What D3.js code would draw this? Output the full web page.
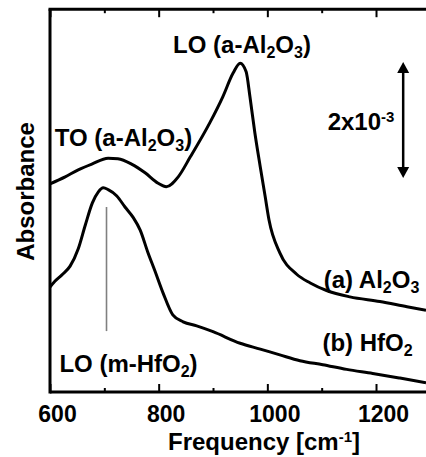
<!DOCTYPE html>
<html>
<head>
<meta charset="utf-8">
<script src="https://cdn.jsdelivr.net/npm/d3@7"></script>
<style>
  html, body { margin: 0; padding: 0; background: #fff; }
  svg { display: block; }
  text { font-family: "Liberation Sans", Arial, Helvetica, sans-serif; font-weight: bold; fill: #000; }
</style>
</head>
<body>
<svg id="chart" width="426" height="457"></svg>
<script>
// ---- data (absorbance in units of 1e-3, offset stacked as in figure) ----
const freqA = [600, 628, 652, 677, 707, 725, 750, 775, 799, 814, 836, 858, 894, 918, 937, 950, 961, 968, 977, 987, 996, 1003, 1023, 1054, 1079, 1109, 1152, 1207, 1257, 1292];
const absA  = [3.59, 3.71, 3.83, 3.93, 4.03, 4.02, 3.93, 3.78, 3.60, 3.54, 3.71, 4.05, 4.64, 5.09, 5.50, 5.67, 5.52, 5.09, 4.47, 3.88, 3.37, 2.97, 2.40, 2.03, 1.88, 1.75, 1.64, 1.56, 1.47, 1.41];

const freqB = [600, 609, 622, 637, 652, 665, 678, 689, 698, 707, 723, 738, 753, 766, 780, 793, 808, 826, 845, 870, 900, 950, 987, 1023, 1060, 1102, 1146, 1194, 1244, 1292];
const absB  = [1.81, 1.91, 2.02, 2.17, 2.47, 2.88, 3.26, 3.45, 3.52, 3.49, 3.38, 3.19, 3.01, 2.79, 2.41, 2.09, 1.71, 1.33, 1.21, 1.14, 1.04, 0.84, 0.74, 0.64, 0.54, 0.47, 0.39, 0.32, 0.24, 0.16];

const majorTicks = [600, 800, 1000, 1200];
const minorTicks = [700, 900, 1100];
const xDomain = [600, 1292];
const yDomain = [0, 6.6];

// LO (m-HfO2) marker and scale bar (data coordinates)
const markerFreq = 704;
const markerRange = [1.05, 3.19];
const scaleBarFreq = 1250;
const scaleBarRange = [3.69, 5.69];

// ---- drawing ----
const svg = d3.select("#chart");
const L = 50, R = 426, T = 9.2, B = 392;
const x = d3.scaleLinear().domain(xDomain).range([L, R]);
const y = d3.scaleLinear().domain(yDomain).range([B, T]);

const line = d3.line().x(d => x(d[0])).y(d => y(d[1])).curve(d3.curveMonotoneX);

// curves
svg.append("path").datum(d3.zip(freqA, absA))
  .attr("d", line).attr("fill", "none").attr("stroke", "#000")
  .attr("stroke-width", 3).attr("stroke-linejoin", "round");
svg.append("path").datum(d3.zip(freqB, absB))
  .attr("d", line).attr("fill", "none").attr("stroke", "#000")
  .attr("stroke-width", 3).attr("stroke-linejoin", "round");

// marker line
svg.append("line")
  .attr("x1", x(markerFreq)).attr("x2", x(markerFreq))
  .attr("y1", y(markerRange[1])).attr("y2", y(markerRange[0]))
  .attr("stroke", "#808080").attr("stroke-width", 1.6);

// axes
function styleAxis(g) {
  g.select(".domain").remove();
  g.selectAll(".tick line").attr("stroke", "#000").attr("stroke-width", 2);
}
const bottomMajor = svg.append("g").attr("transform", `translate(0,${B})`)
  .call(d3.axisBottom(x).tickValues(majorTicks).tickSize(-8).tickPadding(14).tickFormat(d3.format("d")));
styleAxis(bottomMajor);
bottomMajor.selectAll("text").attr("font-size", 23).attr("dx", 7)
  .style("font-family", "'Liberation Sans', Arial, sans-serif").style("font-weight", "bold").attr("fill", "#000");
const bottomMinor = svg.append("g").attr("transform", `translate(0,${B})`)
  .call(d3.axisBottom(x).tickValues(minorTicks).tickSize(-4).tickFormat(""));
styleAxis(bottomMinor);
const topMajor = svg.append("g").attr("transform", `translate(0,${T})`)
  .call(d3.axisTop(x).tickValues(majorTicks).tickSize(-8).tickFormat(""));
styleAxis(topMajor);
const topMinor = svg.append("g").attr("transform", `translate(0,${T})`)
  .call(d3.axisTop(x).tickValues(minorTicks).tickSize(-4).tickFormat(""));
styleAxis(topMinor);

// frame lines (left, bottom, top)
svg.append("line").attr("x1", L).attr("x2", R).attr("y1", B).attr("y2", B).attr("stroke", "#000").attr("stroke-width", 3);
svg.append("line").attr("x1", L - 1.5).attr("x2", R).attr("y1", T).attr("y2", T).attr("stroke", "#000").attr("stroke-width", 3);
svg.append("line").attr("x1", L).attr("x2", L).attr("y1", T).attr("y2", B + 1.5).attr("stroke", "#000").attr("stroke-width", 3);

// scale bar with arrows
const sbx = x(scaleBarFreq), sy1 = y(scaleBarRange[1]), sy0 = y(scaleBarRange[0]);
svg.append("line").attr("x1", sbx).attr("x2", sbx).attr("y1", sy1 + 6).attr("y2", sy0 - 6)
  .attr("stroke", "#000").attr("stroke-width", 2.5);
svg.append("path").attr("d", `M${sbx},${sy1} L${sbx - 6},${sy1 + 11} L${sbx + 6},${sy1 + 11} Z`).attr("fill", "#000");
svg.append("path").attr("d", `M${sbx},${sy0} L${sbx - 6},${sy0 - 11} L${sbx + 6},${sy0 - 11} Z`).attr("fill", "#000");

// text helper: parts = [[text, kind]] kind: "n" normal, "sub", "sup"
function label(cx, cy, parts, anchor) {
  const t = svg.append("text").attr("x", cx).attr("y", cy)
    .attr("font-size", 24).attr("text-anchor", anchor || "middle");
  parts.forEach(([s, k]) => {
    const ts = t.append("tspan").text(s);
    if (k === "sub") ts.attr("font-size", 16).attr("baseline-shift", "-5");
    if (k === "sup") ts.attr("font-size", 15).attr("baseline-shift", "8");
  });
  return t;
}

label(242, 53, [["LO (a-Al", "n"], ["2", "sub"], ["O", "n"], ["3", "sub"], [")", "n"]]);
label(123.5, 146, [["TO (a-Al", "n"], ["2", "sub"], ["O", "n"], ["3", "sub"], [")", "n"]]);
label(361, 130, [["2x10", "n"], ["-3", "sup"]]);
label(371.5, 288, [["(a) Al", "n"], ["2", "sub"], ["O", "n"], ["3", "sub"]]);
label(367.5, 351, [["(b) HfO", "n"], ["2", "sub"]]);
label(128.5, 371.5, [["LO (m-HfO", "n"], ["2", "sub"], [")", "n"]]);
label(264, 450, [["Frequency [cm", "n"], ["-1", "sup"], ["]", "n"]]);

svg.append("text").attr("transform", "translate(34,191.5) rotate(-90)")
  .attr("text-anchor", "middle").attr("font-size", 24).text("Absorbance");
</script>
</body>
</html>
